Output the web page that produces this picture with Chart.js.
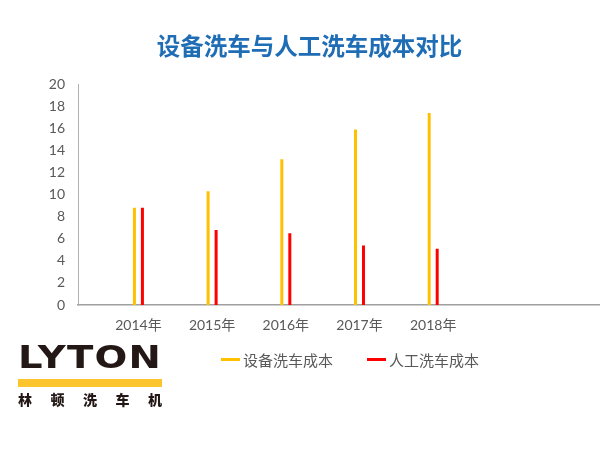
<!DOCTYPE html>
<html>
<head>
<meta charset="utf-8">
<script src="https://cdn.jsdelivr.net/npm/chart.js@4/dist/chart.umd.min.js"></script>
<style>
  html, body { margin: 0; padding: 0; background: #fff; }
  #wrap { position: relative; width: 600px; height: 450px; overflow: hidden; }
  #c { position: absolute; left: 0; top: 0; }
  #legend { position: absolute; left: 221px; top: 349px; display: flex; gap: 34px;
            font-family: "Noto Sans CJK SC", sans-serif; font-size: 15px; color: #595959; }
  .item { display: flex; align-items: center; }
  .swatch { width: 19px; height: 2.5px; margin-right: 3px; }
  #logo { position: absolute; left: 18px; top: 340px; width: 144px; }
  #lyton { font-family: "DejaVu Sans", sans-serif; font-weight: 900; font-size: 32px; color: #231815;
           line-height: 34px; white-space: nowrap; transform-origin: left top; display: inline-block; letter-spacing: 1px; }
  #ybar { position: absolute; left: 0; top: 39px; width: 144px; height: 8px; background: #fcc52d; }
  #cn { position: absolute; left: 0; top: 50px; width: 144px; display: flex; justify-content: space-between;
        font-family: "Noto Sans CJK SC", sans-serif; font-weight: 900; font-size: 14px; color: #231815; line-height: 18px; }
</style>
</head>
<body>
<div id="wrap">
  <canvas id="c" width="600" height="450"></canvas>
  <div id="legend"></div>
  <div id="logo">
    <span id="lyton">LYTON</span>
    <div id="ybar"></div>
    <div id="cn"><span>林</span><span>顿</span><span>洗</span><span>车</span><span>机</span></div>
  </div>
</div>
<script>
const titleText = "设备洗车与人工洗车成本对比";
const categories = ["2014年", "2015年", "2016年", "2017年", "2018年"];
const equipmentCost = [8.8, 10.3, 13.2, 15.9, 17.4];
const manualCost = [8.8, 6.8, 6.5, 5.4, 5.1];
const seriesNames = ["设备洗车成本", "人工洗车成本"];
const seriesColors = ["#ffc000", "#ff0000"];
const yTicks = [0, 2, 4, 6, 8, 10, 12, 14, 16, 18, 20];

const toPoints = vals => vals.map((v, i) => ({ x: i, y: v }));

// shift the title block slightly right, as in the reference
const titleShift = {
  id: 'titleShift',
  afterLayout(chart) { if (chart.titleBlock) chart.titleBlock.left += 20; }
};

const chart = new Chart(document.getElementById('c'), {
  type: 'bar',
  data: {
    datasets: [
      { label: seriesNames[0], data: toPoints(equipmentCost), backgroundColor: seriesColors[0] },
      { label: seriesNames[1], data: toPoints(manualCost), backgroundColor: seriesColors[1] }
    ]
  },
  plugins: [titleShift],
  options: {
    responsive: false,
    animation: false,
    devicePixelRatio: 1,
    categoryPercentage: 0.217,
    barPercentage: 0.375,
    layout: { padding: { left: 0, right: 1, top: 0, bottom: 0 } },
    plugins: {
      legend: { display: false },
      tooltip: { enabled: false },
      title: {
        display: true,
        text: titleText,
        color: '#1f6db5',
        font: { family: '"Noto Sans CJK SC", sans-serif', size: 23.5, weight: 'bold' },
        padding: { top: 32, bottom: 24 }
      }
    },
    scales: {
      x: {
        type: 'linear',
        offset: false,
        min: -0.82,
        max: 6.25,
        grid: { display: false, drawTicks: false, offset: false },
        border: { display: true, color: '#a0a0a0', width: 1.5 },
        afterBuildTicks: s => { s.ticks = categories.map((c, i) => ({ value: i })); },
        afterFit: s => { s.height = 145; },
        ticks: {
          autoSkip: false, maxRotation: 0, padding: 12, color: '#595959',
          font: { family: 'Lato, "Noto Sans CJK SC", sans-serif', size: 14 },
          callback: v => categories[v] ?? ''
        }
      },
      y: {
        min: 0, max: 20,
        grid: { display: false, drawTicks: false },
        border: { display: true, color: '#b0b0b0', width: 1 },
        afterBuildTicks: s => { s.ticks = yTicks.map(v => ({ value: v })); },
        afterFit: s => { s.width = 78; },
        ticks: {
          padding: 13, color: '#595959',
          font: { family: 'Lato, sans-serif', size: 14 }
        }
      }
    }
  }
});

// HTML legend built from the datasets
const legend = document.getElementById('legend');
chart.data.datasets.forEach(ds => {
  const item = document.createElement('div');
  item.className = 'item';
  const sw = document.createElement('div');
  sw.className = 'swatch';
  sw.style.background = ds.backgroundColor;
  const tx = document.createElement('span');
  tx.textContent = ds.label;
  item.appendChild(sw); item.appendChild(tx);
  legend.appendChild(item);
});

// fit logo wordmark to its bar width
const ly = document.getElementById('lyton');
const w = ly.getBoundingClientRect().width;
ly.style.transform = 'scaleX(' + (144 / w) + ')';
</script>
</body>
</html>
